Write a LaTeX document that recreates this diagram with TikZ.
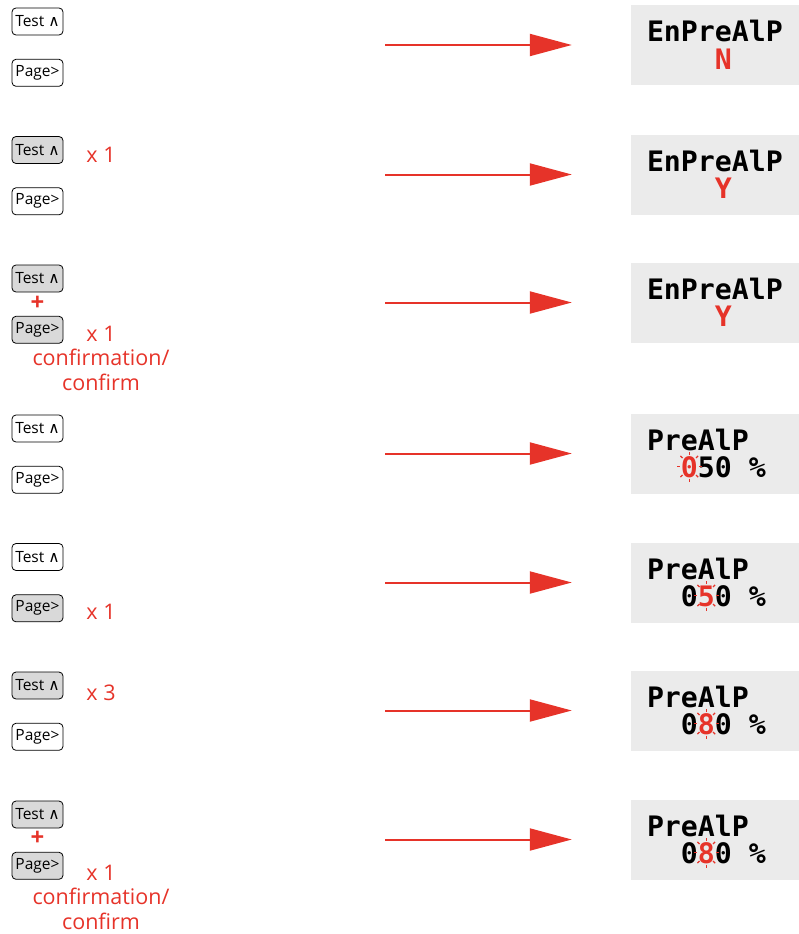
\documentclass[tikz,border=0pt]{standalone}
\usepackage{fontspec}
\setmainfont{Open Sans}
\setmonofont{DejaVu Sans Mono}
\newfontfamily\symfont{DejaVu Sans}
\usetikzlibrary{arrows.meta,positioning}
\definecolor{sigred}{HTML}{E63329}
\definecolor{lcdgray}{HTML}{EBEBEB}
\definecolor{keygray}{HTML}{D9D9D9}
\newcommand\upkey{{\symfont\fontsize{15.5}{15}\selectfont\char"2227}}
\newcommand\blinkrays[1]{\foreach \a in {0,45,...,315}{\draw[ray] ([shift={(\a:9.5 and 12)}]#1) -- ([shift={(\a:12.5 and 15)}]#1);}}
\tikzset{key/.style={draw,rounded corners=4pt,minimum width=51pt,minimum height=27pt,inner sep=1pt,line width=0.8pt,font=\fontsize{15.5}{15}\selectfont},pressed/.style={key,fill=keygray},lcd/.style={fill=lcdgray,align=left,text width=136pt,inner xsep=16pt,minimum height=80pt,font=\fontsize{28.2}{27.5}\selectfont\ttfamily\bfseries},arrow/.style={-{Triangle[length=42pt,width=22pt]},line width=2pt,sigred,shorten >=59pt},note/.style={text=sigred,align=center,font=\fontsize{21.5}{25}\selectfont},plus/.style={text=sigred,font=\fontsize{24}{24}\selectfont\bfseries},ray/.style={sigred,line width=1.2pt}}

\begin{document}
\begin{tikzpicture}[x=1pt,y=-1pt,node distance=23.5pt]
\useasboundingbox (0,0) rectangle (799,934);
% row 1
\node[key] (t1) at (37.5,21.5) {Test \upkey};
\node[key,below=of t1] (p1) {Page>};
\node[lcd] (d1) at (715,45) {EnPreAlP\\\phantom{EnPr}\textcolor{sigred}{N}};
\coordinate (s1) at (385,45); \draw[arrow] (s1)--(d1.west);
% row 2
\node[pressed] (t2) at (37.5,150) {Test \upkey};
\node[key,below=of t2] (p2) {Page>};
\node[note] (n2) at (101,155) {x 1};
\node[lcd] (d2) at (715,174.5) {EnPreAlP\\\phantom{EnPr}\textcolor{sigred}{Y}};
\coordinate (s2) at (385,174.5); \draw[arrow] (s2)--(d2.west);
% row 3
\node[pressed] (t3) at (37.5,278.5) {Test \upkey};
\node[pressed,below=of t3] (p3) {Page>};
\node[plus] (plus3) at (37.5,303) {+};
\node[note] (n3) at (101,334) {x 1};
\node[note,below=0pt of n3] (c3) {confirmation/\\confirm};
\node[lcd] (d3) at (715,302.5) {EnPreAlP\\\phantom{EnPr}\textcolor{sigred}{Y}};
\coordinate (s3) at (385,302.5); \draw[arrow] (s3)--(d3.west);
% row 4
\node[key] (t4) at (37.5,428.5) {Test \upkey};
\node[key,below=of t4] (p4) {Page>};
\node[lcd] (d4) at (715,453.5) {PreAlP\\\phantom{00}\textcolor{sigred}{0}50\phantom{0}\%};
\coordinate (s4) at (385,453.5); \draw[arrow] (s4)--(d4.west);
\coordinate (b4) at ([shift={(58.5,13)}]d4.west); \blinkrays{b4}
% row 5
\node[key] (t5) at (37.5,557) {Test \upkey};
\node[pressed,below=of t5] (p5) {Page>};
\node[note] (n5) at (101,612) {x 1};
\node[lcd] (d5) at (715,582.5) {PreAlP\\\phantom{00}0\textcolor{sigred}{5}0\phantom{0}\%};
\coordinate (s5) at (385,582.5); \draw[arrow] (s5)--(d5.west);
\coordinate (b5) at ([shift={(75.5,13)}]d5.west); \blinkrays{b5}
% row 6
\node[pressed] (t6) at (37.5,685.5) {Test \upkey};
\node[key,below=of t6] (p6) {Page>};
\node[note] (n6) at (101,693) {x 3};
\node[lcd] (d6) at (715,710.5) {PreAlP\\\phantom{00}0\textcolor{sigred}{8}0\phantom{0}\%};
\coordinate (s6) at (385,710.5); \draw[arrow] (s6)--(d6.west);
\coordinate (b6) at ([shift={(75.5,13)}]d6.west); \blinkrays{b6}
% row 7
\node[pressed] (t7) at (37.5,814.5) {Test \upkey};
\node[pressed,below=of t7] (p7) {Page>};
\node[plus] (plus7) at (37.5,838) {+};
\node[note] (n7) at (101,873) {x 1};
\node[note,below=0pt of n7] (c7) {confirmation/\\confirm};
\node[lcd] (d7) at (715,839.5) {PreAlP\\\phantom{00}0\textcolor{sigred}{8}0\phantom{0}\%};
\coordinate (s7) at (385,839.5); \draw[arrow] (s7)--(d7.west);
\coordinate (b7) at ([shift={(75.5,13)}]d7.west); \blinkrays{b7}
\end{tikzpicture}
\end{document}
